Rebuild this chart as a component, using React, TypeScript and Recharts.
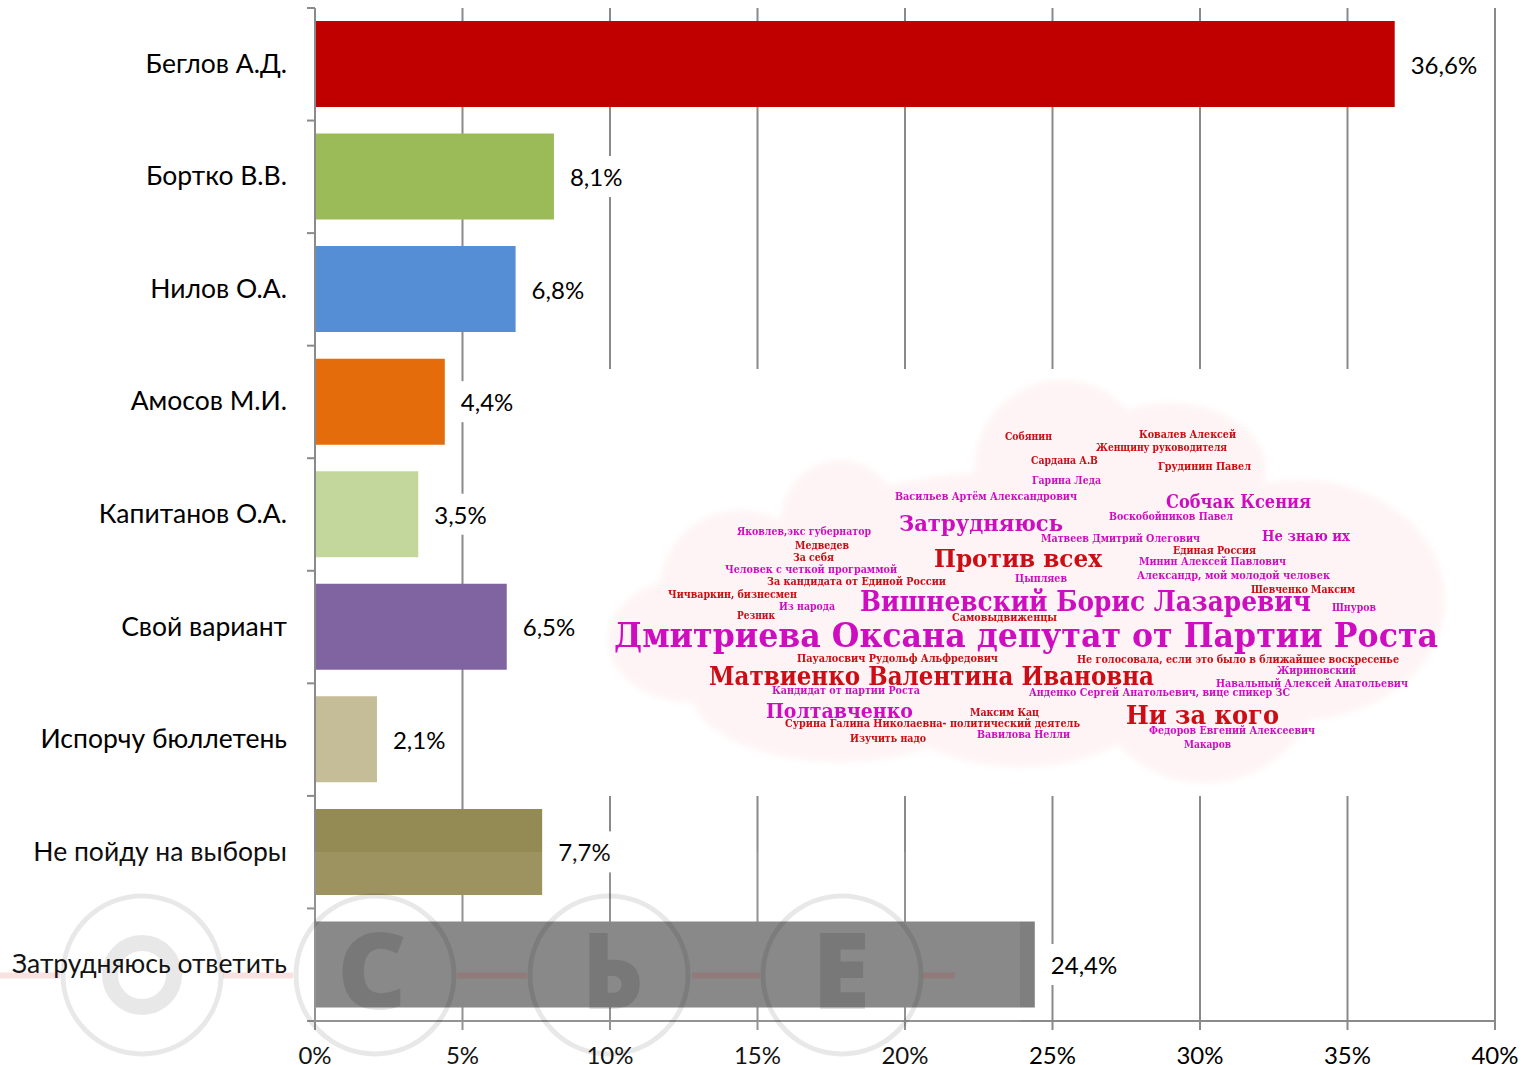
import { BarChart, Bar, Cell, CartesianGrid, LabelList, XAxis, YAxis } from "recharts";

const candidates = ["Беглов А.Д.", "Бортко В.В.", "Нилов О.А.", "Амосов М.И.", "Капитанов О.А.", "Свой вариант", "Испорчу бюллетень", "Не пойду на выборы", "Затрудняюсь ответить"];
const shares = [36.6, 8.1, 6.8, 4.4, 3.5, 6.5, 2.1, 7.7, 24.4];
const barColors = ["#C00000", "#9BBB59", "#558ED5", "#E46C0A", "#C3D69B", "#8064A2", "#C4BD97", "#948A54", "#7F7F7F"];
const shareTicks = [0, 5, 10, 15, 20, 25, 30, 35, 40];

const rows = candidates.map((name, i) => ({ name, share: shares[i] }));

const FONT = "Lato, 'Open Sans', sans-serif";
const AXIS_GRAY = "#8A8A8A";
const MAGENTA = "#CE10C0";
const RED = "#CC0A12";
const BAND = 1013 / candidates.length;

// word cloud picture on top of the chart: text, then where each one goes
const cloudWords = [
  "Собянин", "Ковалев Алексей", "Женщину руководителя", "Сардана А.В", "Грудинин Павел", "Гарина Леда",
  "Васильев Артём Александрович", "Собчак Ксения", "Воскобойников Павел", "Затрудняюсь", "Яковлев,экс губернатор",
  "Матвеев Дмитрий Олегович", "Не знаю их", "Медведев", "Единая Россия", "За себя", "Против всех",
  "Минин Алексей Павлович", "Человек с четкой программой", "Александр, мой молодой человек",
  "За кандидата от Единой России", "Цыпляев", "Чичваркин, бизнесмен", "Шевченко Максим",
  "Вишневский Борис Лазаревич", "Из народа", "Шнуров", "Резник", "Самовыдвиженцы",
  "Дмитриева Оксана депутат от Партии Роста", "Пауалосвич Рудольф Альфредович",
  "Не голосовала, если это было в ближайшее воскресенье", "Жириновский", "Матвиенко Валентина Ивановна",
  "Навальный Алексей Анатольевич", "Кандидат от партии Роста", "Анденко Сергей Анатольевич, вице спикер ЗС",
  "Полтавченко", "Максим Кац", "Ни за кого", "Сурина Галина Николаевна- политический деятель",
  "Федоров Евгений Алексеевич", "Вавилова Нелли", "Изучить надо", "Макаров",
];
// [left, right, middle y, font size, colour]
const cloudPlacement: [number, number, number, number, string][] = [
  [1005, 1052, 437, 11, RED], [1139, 1236, 435, 11, RED], [1096, 1227, 448, 11, RED], [1031, 1098, 461, 11, RED],
  [1158, 1251, 467, 11, RED], [1032, 1101, 481, 11, MAGENTA], [895, 1077, 497, 11, MAGENTA], [1166, 1311, 503, 18, MAGENTA],
  [1109, 1233, 517, 11, MAGENTA], [899, 1063, 524, 23, MAGENTA], [737, 871, 532, 11, MAGENTA], [1041, 1200, 539, 11, MAGENTA],
  [1262, 1350, 537, 14, MAGENTA], [795, 849, 546, 11, RED], [1173, 1256, 551, 11, RED], [793, 834, 558, 11, RED],
  [934, 1102, 560, 24, RED], [1139, 1286, 562, 11, MAGENTA], [725, 897, 570, 11, MAGENTA], [1137, 1330, 576, 11, MAGENTA],
  [767, 946, 582, 11, RED], [1015, 1067, 579, 11, MAGENTA], [668, 797, 595, 11, RED], [1251, 1355, 590, 11, RED],
  [860, 1311, 603, 27, MAGENTA], [779, 835, 607, 11, MAGENTA], [1332, 1376, 608, 11, MAGENTA], [737, 775, 616, 11, RED],
  [952, 1057, 618, 11, RED], [614, 1438, 637, 33, MAGENTA], [797, 998, 659, 11, RED], [1077, 1399, 660, 11, RED],
  [1277, 1356, 671, 11, MAGENTA], [709, 1154, 677, 26, RED], [1216, 1408, 684, 11, MAGENTA], [772, 920, 691, 11, MAGENTA],
  [1029, 1290, 693, 11, MAGENTA], [766, 913, 712, 20, MAGENTA], [970, 1039, 713, 11, RED], [1126, 1279, 716, 26, RED],
  [785, 1080, 724, 11, RED], [1149, 1315, 731, 11, MAGENTA], [977, 1070, 735, 11, MAGENTA], [850, 926, 739, 11, RED],
  [1184, 1231, 745, 11, MAGENTA],
];
// [cx, cy, rx, ry]
const cloudLobes = [
  [1062, 470, 88, 90], [1170, 470, 96, 67], [1300, 600, 145, 120], [840, 525, 60, 65], [740, 590, 80, 80],
  [690, 640, 82, 62], [840, 690, 150, 72], [1020, 700, 130, 67], [1205, 665, 118, 118], [1030, 600, 300, 130],
];

const stampRings = [375, 609, 842];
const stampLetters = ["С", "Ь", "Е"];
const stampLetterSpans = [[337, 407], [582, 643], [812, 870]];
const stampDashes = [[0, 60], [223, 293], [457, 527], [692, 760], [923, 955]];

// excel puts the category ticks between the bars, so each tick draws its own upper mark
function CandidateTick({ x, y, payload, index }: any) {
  const axisX = x + 28;
  const isLast = index === candidates.length - 1;
  return (
    <g>
      <line x1={axisX - 8} x2={axisX} y1={y - BAND / 2} y2={y - BAND / 2} stroke={AXIS_GRAY} strokeWidth={2} />
      {isLast && <line x1={axisX - 8} x2={axisX} y1={y + BAND / 2} y2={y + BAND / 2} stroke={AXIS_GRAY} strokeWidth={2} />}
      <text x={x} y={y + 8.5} textAnchor="end" fontFamily={FONT} fontSize={26.5} fill="#000">
        {payload.value}
      </text>
    </g>
  );
}

function ShareLabel({ x, y, width, height, value }: any) {
  const left = x + width + 16;
  const mid = y + height / 2;
  return (
    <g>
      <rect x={left - 2} y={mid - 20.5} width={String(value).length > 3 ? 70 : 56} height={41} fill="#fff" />
      <text x={left} y={mid + 9.5} fontFamily={FONT} fontSize={24} fill="#000">
        {String(value).replace(".", ",")}%
      </text>
    </g>
  );
}

function Overlay() {
  return (
    <svg width={1535} height={1065} style={{ position: "absolute", left: 0, top: 0, pointerEvents: "none" }}>
      <defs>
        <filter id="soft"><feGaussianBlur stdDeviation="3" /></filter>
        <filter id="softText"><feGaussianBlur stdDeviation="0.35" /></filter>
      </defs>
      <rect x={600} y={369} width={850} height={427} fill="#fff" />
      <g fill="#FEF4F5" filter="url(#soft)">
        {cloudLobes.map(([cx, cy, rx, ry], i) => <ellipse key={i} cx={cx} cy={cy} rx={rx} ry={ry} />)}
      </g>
      <g fontFamily="'DejaVu Serif', serif" fontWeight={700} filter="url(#softText)">
        {cloudWords.map((word, i) => {
          const [left, right, mid, size, color] = cloudPlacement[i];
          return (
            <text key={word} x={left} y={mid + size * 0.3} fontSize={size} fill={color} textLength={right - left} lengthAdjust="spacingAndGlyphs">
              {word}
            </text>
          );
        })}
      </g>
      <rect x={0} y={852} width={1020} height={213} fill="#fff" fillOpacity={0.08} />
      <g fill="none" stroke="#000" strokeOpacity={0.09}>
        <circle cx={142} cy={975} r={79} strokeWidth={5} />
        <circle cx={142} cy={975} r={32} strokeWidth={16} />
        {stampRings.map((cx) => <circle key={cx} cx={cx} cy={975} r={79} strokeWidth={5} />)}
      </g>
      {stampDashes.map(([a, b]) => <line key={a} x1={a} x2={b} y1={975.5} y2={975.5} stroke="#C81414" strokeOpacity={0.13} strokeWidth={6} />)}
      {stampLetters.map((letter, i) => (
        <text key={letter} x={stampLetterSpans[i][0]} y={1009} fontFamily="'Open Sans', sans-serif" fontWeight={800} fontSize={106} fill="#000" fillOpacity={0.12} textLength={stampLetterSpans[i][1] - stampLetterSpans[i][0]} lengthAdjust="spacingAndGlyphs">
          {letter}
        </text>
      ))}
    </svg>
  );
}

export default function App() {
  return (
    <div style={{ position: "absolute", left: 0, top: 0, width: 1535, height: 1065, background: "#fff" }}>
      <BarChart width={1535} height={1065} data={rows} layout="vertical" margin={{ top: 8, right: 40, bottom: 0, left: 0 }}>
        <CartesianGrid horizontal={false} stroke={AXIS_GRAY} strokeWidth={2} />
        <XAxis type="number" domain={[0, 40]} ticks={shareTicks} tickFormatter={(v) => `${v}%`} height={44} interval={0}
          axisLine={{ stroke: AXIS_GRAY, strokeWidth: 2 }} tickLine={{ stroke: AXIS_GRAY, strokeWidth: 2 }} tickSize={9} tickMargin={17}
          tick={{ fontFamily: FONT, fontSize: 24, fill: "#000" }} />
        <YAxis type="category" dataKey="name" width={315} axisLine={{ stroke: AXIS_GRAY, strokeWidth: 2 }} tickLine={false} tickSize={0} tickMargin={28} interval={0}
          tick={CandidateTick} />
        <Bar dataKey="share" barSize={86} isAnimationActive={false}>
          {rows.map((r, i) => <Cell key={r.name} fill={barColors[i]} />)}
          <LabelList dataKey="share" content={<ShareLabel />} />
        </Bar>
      </BarChart>
      <Overlay />
    </div>
  );
}
